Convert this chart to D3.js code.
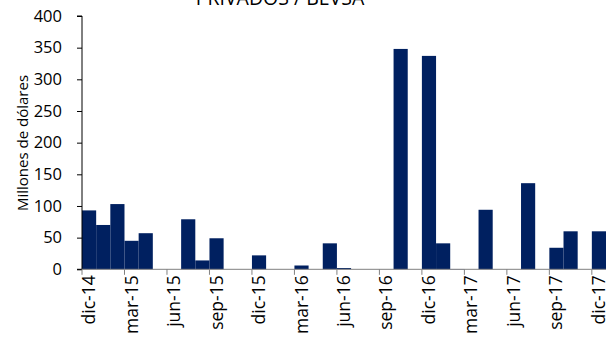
<!DOCTYPE html>
<html><head><meta charset="utf-8">
<script src="https://cdn.jsdelivr.net/npm/d3@7"></script>
<style>body{margin:0;background:#fff}svg{display:block;font-family:"Open Sans",sans-serif}</style>
</head><body><svg id="c" width="615" height="337"></svg>
<script>
const months = ["dic-14","ene-15","feb-15","mar-15","abr-15","may-15","jun-15","jul-15","ago-15","sep-15","oct-15","nov-15",
"dic-15","ene-16","feb-16","mar-16","abr-16","may-16","jun-16","jul-16","ago-16","sep-16","oct-16","nov-16",
"dic-16","ene-17","feb-17","mar-17","abr-17","may-17","jun-17","jul-17","ago-17","sep-17","oct-17","nov-17","dic-17"];
const values = [93,70,103,45,57,0,0,79,14,49,0,0,
22,0,0,6,0,41,2,0,0,0,348,0,
337,41,0.5,0,94,0,0,136,0,34,60,0,60];
const tickLabels = ["dic-14","mar-15","jun-15","sep-15","dic-15","mar-16","jun-16","sep-16","dic-16","mar-17","jun-17","sep-17","dic-17"];
const yTicks = [0,50,100,150,200,250,300,350,400];
const title = "PRIVADOS / BEVSA";
const yTitle = "Millones de dólares";

const svg = d3.select("#c");
const L = 82, R = 606, T = 16, B = 269.3;
const x = d3.scaleBand().domain(months).range([L, R]).padding(0);
const y = d3.scaleLinear().domain([0, 400]).range([B, T]);

svg.append("g").selectAll("rect").data(values).join("rect")
  .attr("x", (d,i) => x(months[i]))
  .attr("width", x.bandwidth())
  .attr("y", d => y(d))
  .attr("height", d => B - y(d))
  .attr("fill", "#002060");

// y axis
const ya = svg.append("g").attr("transform", `translate(${L},0)`)
  .call(d3.axisLeft(y).tickValues(yTicks).tickSize(5).tickPadding(15));
ya.select(".domain").attr("stroke", "#000").attr("d", `M-5,${T}H0V${B}H-5`);
ya.selectAll(".tick line").attr("stroke", "#000");
ya.selectAll("text").attr("font-size", 16.5).attr("fill", "#000").attr("font-family", "Open Sans");

// x axis
const xa = svg.append("g").attr("transform", `translate(0,${B})`);
xa.append("line").attr("x1", L).attr("x2", R).attr("stroke", "#808080").attr("stroke-width", 1);
xa.selectAll("line.t").data(tickLabels).join("line").attr("class","t")
  .attr("x1", d => x(d)).attr("x2", d => x(d)).attr("y1", 0).attr("y2", 5.5)
  .attr("stroke", "#808080");
xa.selectAll("text").data(tickLabels).join("text")
  .attr("transform", d => `translate(${x(d) + x.bandwidth()/2 + 6},6) rotate(-90)`)
  .attr("text-anchor", "end")
  .attr("font-size", 17.5).attr("fill", "#000")
  .text(d => d);

svg.append("text").attr("x", 280).attr("y", 5).attr("text-anchor", "middle")
  .attr("font-size", 19.5).attr("fill", "#000").text(title);

svg.append("text").attr("transform", "translate(28,143) rotate(-90)")
  .attr("text-anchor", "middle").attr("font-size", 15).attr("fill", "#000").text(yTitle);
</script></body></html>
